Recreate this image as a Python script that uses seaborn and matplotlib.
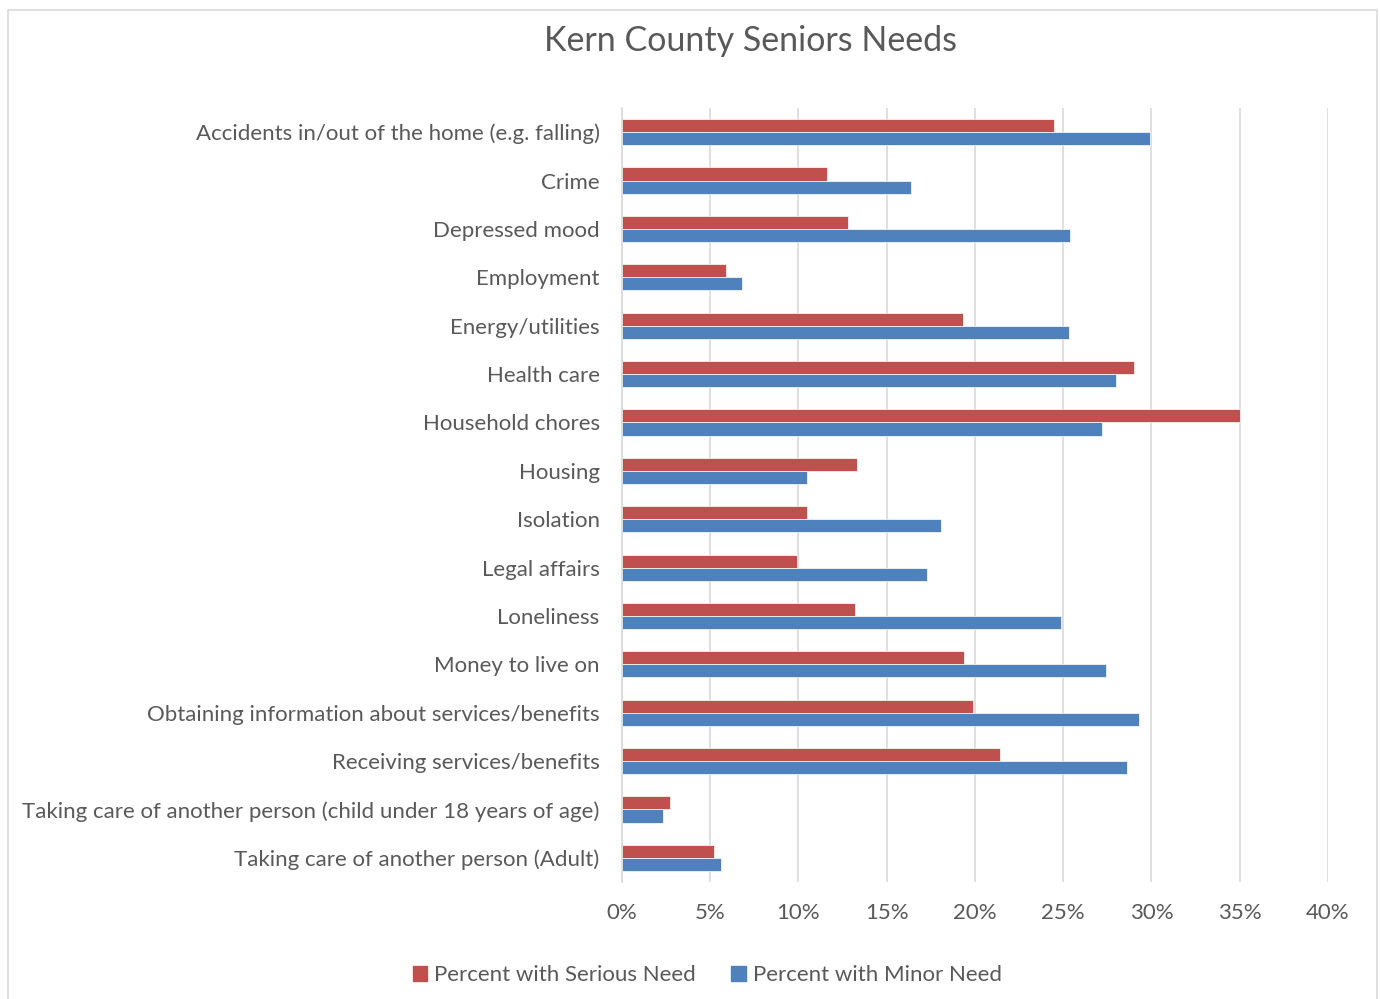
import pandas as pd
import matplotlib.pyplot as plt
import matplotlib.patches as mpatches
import seaborn as sns

categories = [
    "Accidents in/out of the home (e.g. falling)",
    "Crime",
    "Depressed mood",
    "Employment",
    "Energy/utilities",
    "Health care",
    "Household chores",
    "Housing",
    "Isolation",
    "Legal affairs",
    "Loneliness",
    "Money to live on",
    "Obtaining information about services/benefits",
    "Receiving services/benefits",
    "Taking care of another person (child under 18 years of age)",
    "Taking care of another person (Adult)",
]
serious = [24.5, 11.6, 12.8, 5.9, 19.3, 29.0, 35.0, 13.3, 10.5, 9.9, 13.2, 19.4, 19.9, 21.4, 2.7, 5.2]
minor = [29.9, 16.4, 25.4, 6.8, 25.3, 28.0, 27.2, 10.5, 18.1, 17.3, 24.9, 27.4, 29.3, 28.6, 2.3, 5.6]
series = ["Percent with Serious Need", "Percent with Minor Need"]
colors = ["#C0504D", "#4F81BD"]

df = pd.DataFrame({"Need": categories * 2,
                   "Percent": serious + minor,
                   "Series": [series[0]] * len(categories) + [series[1]] * len(categories)})

sns.set_style("white")
plt.rcParams['font.family'] = ['Lato', 'DejaVu Sans']
txt = "#595959"

fig = plt.figure(figsize=(13.8, 9.99), dpi=100)
ax = fig.add_axes([0.4507, 0.1171, 0.5116, 0.7748])

sns.barplot(data=df, y="Need", x="Percent", hue="Series", palette=colors,
            saturation=1, orient="h", width=0.54, ax=ax, edgecolor="white",
            linewidth=0.5, legend=False)

ax.set_xlim(0, 40)
ax.set_xticks(range(0, 41, 5))
ax.set_xticklabels([f"{v}%" for v in range(0, 41, 5)], fontsize=16, color=txt)
ax.tick_params(axis="y", labelsize=16, labelcolor=txt, length=0, pad=16)
ax.tick_params(axis="x", length=0, pad=15)
ax.set_xlabel("")
ax.set_ylabel("")
ax.xaxis.grid(True, color="#D9D9D9", linewidth=1.2)
ax.set_axisbelow(True)
for s in ["top", "right", "bottom"]:
    ax.spines[s].set_visible(False)
ax.spines["left"].set_color("#D9D9D9")
ax.spines["left"].set_linewidth(1.2)

fig.text(0.5435, 0.959, "Kern County Seniors Needs", ha="center", va="center",
         fontsize=24.5, color=txt)

handles = [mpatches.Patch(color=c, label=l) for c, l in zip(colors, series)]
fig.legend(handles=handles, loc="center", bbox_to_anchor=(0.5125, 0.024), ncol=2,
           frameon=False, fontsize=16, labelcolor=txt, handlelength=0.65,
           handleheight=0.65, handletextpad=0.3, columnspacing=1.6)

fig.patches.append(mpatches.Rectangle((8 / 1380, -0.01), 1369 / 1380, 0.9995,
                                      transform=fig.transFigure, fill=False,
                                      edgecolor="#D9D9D9", linewidth=1.2))

fig.savefig("out.png", dpi=100)
